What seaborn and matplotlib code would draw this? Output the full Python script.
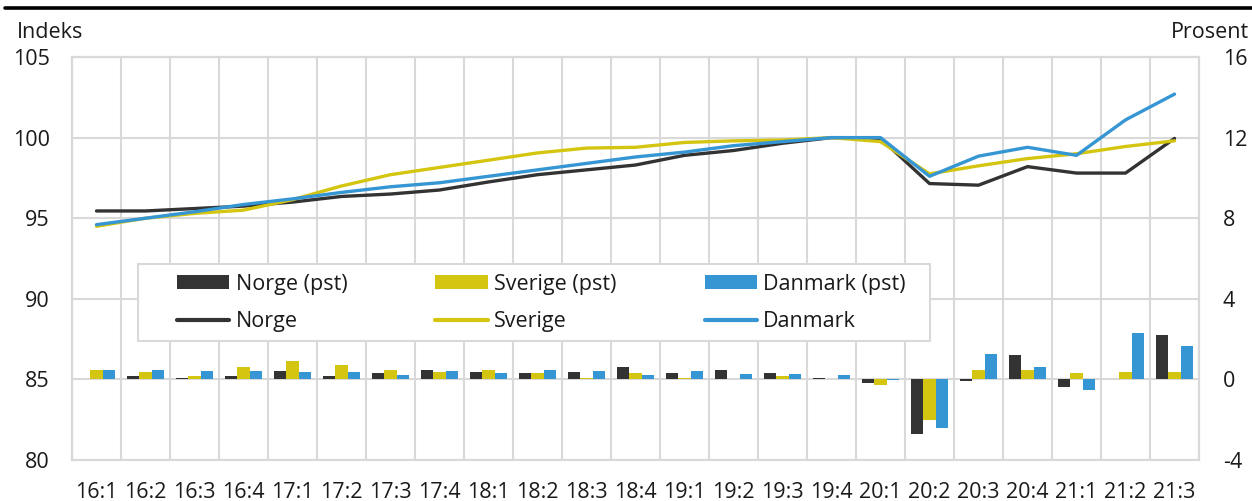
import pandas as pd
import numpy as np
import seaborn as sns
import matplotlib.pyplot as plt
from matplotlib.lines import Line2D

quarters = ["16:1", "16:2", "16:3", "16:4", "17:1", "17:2", "17:3", "17:4",
            "18:1", "18:2", "18:3", "18:4", "19:1", "19:2", "19:3", "19:4",
            "20:1", "20:2", "20:3", "20:4", "21:1", "21:2", "21:3"]

# index (left axis)
norge_idx = [95.45, 95.45, 95.6, 95.75, 96.0, 96.35, 96.5, 96.75, 97.25, 97.7, 98.0, 98.3,
             98.9, 99.2, 99.65, 100.0, 99.95, 97.15, 97.05, 98.2, 97.8, 97.8, 99.95]
sverige_idx = [94.5, 95.0, 95.3, 95.5, 96.15, 97.0, 97.7, 98.15, 98.6, 99.05, 99.35, 99.4,
               99.7, 99.8, 99.85, 100.0, 99.75, 97.75, 98.25, 98.7, 99.0, 99.45, 99.8]
danmark_idx = [94.6, 95.0, 95.4, 95.85, 96.2, 96.6, 96.95, 97.2, 97.6, 98.0, 98.4, 98.8,
               99.1, 99.5, 99.75, 100.0, 100.0, 97.6, 98.85, 99.4, 98.9, 101.1, 102.7]

# quarterly growth in percent (right axis)
norge_pst = [0.0, 0.18, 0.08, 0.18, 0.4, 0.18, 0.3, 0.48, 0.38, 0.3, 0.38, 0.6,
             0.3, 0.48, 0.3, 0.07, -0.2, -2.72, -0.1, 1.19, -0.4, 0.0, 2.18]
sverige_pst = [0.48, 0.38, 0.18, 0.6, 0.91, 0.7, 0.48, 0.38, 0.48, 0.3, 0.08, 0.3,
               0.08, 0.0, 0.18, 0.0, -0.3, -2.0, 0.48, 0.48, 0.3, 0.38, 0.38]
danmark_pst = [0.46, 0.46, 0.43, 0.41, 0.35, 0.35, 0.23, 0.41, 0.31, 0.46, 0.43, 0.21,
               0.43, 0.28, 0.25, 0.23, -0.02, -2.43, 1.24, 0.61, -0.55, 2.28, 1.64]

countries = ["Norge", "Sverige", "Danmark"]
colors = ["#333333", "#d4c511", "#3596d3"]

sns.set_theme(style="white")
plt.rcParams["font.family"] = ["Open Sans", "DejaVu Sans"]
plt.rcParams["text.color"] = "#1a1a1a"
plt.rcParams["xtick.color"] = "#1a1a1a"
plt.rcParams["ytick.color"] = "#1a1a1a"
fs = 15.5

# long-form frames
df_lines = pd.DataFrame({
    "kvartal": quarters * 3,
    "indeks": norge_idx + sverige_idx + danmark_idx,
    "land": np.repeat(countries, len(quarters)),
})
df_bars = pd.DataFrame({
    "kvartal": quarters * 3,
    "pst": norge_pst + sverige_pst + danmark_pst,
    "land": np.repeat([c + " (pst)" for c in countries], len(quarters)),
})

fig = plt.figure(figsize=(12.52, 5.01), dpi=100)
ax = fig.add_axes([0.0575, 0.0818, 0.9002, 0.8044])
ax2 = ax.twinx()

sns.lineplot(data=df_lines, x="kvartal", y="indeks", hue="land",
             palette=colors, linewidth=2.4, ax=ax, legend=False, sort=False)
sns.barplot(data=df_bars, x="kvartal", y="pst", hue="land",
            palette=colors, width=0.75, linewidth=0, saturation=1,
            ax=ax2, legend=False)

n = len(quarters)
ax.set_xlim(-0.5, n - 0.5)
ax.set_ylim(80, 105)
ax.set_yticks([80, 85, 90, 95, 100, 105])
ax2.set_ylim(-4, 16)
ax2.set_yticks([-4, 0, 4, 8, 12, 16])
ax2.set_yticklabels(["-4", "0", "4", "8", "12", "16"])

# grid: horizontal at left ticks, vertical between quarters
grid_c = "#d9d9d9"
ax.set_xticks(np.arange(-0.5, n, 1), minor=True)
ax.grid(axis="y", color=grid_c, linewidth=1.5)
ax.grid(axis="x", which="minor", color=grid_c, linewidth=1.5)
ax.grid(axis="x", which="major", visible=False)
for a in (ax, ax2):
    for s in a.spines.values():
        s.set_color(grid_c)
        s.set_linewidth(1.5)
    a.set_xlabel("")
    a.set_ylabel("")
    a.tick_params(length=0, which="both", labelsize=fs)

ax.tick_params(axis="y", pad=16)
ax2.tick_params(axis="y", pad=17)
ax.tick_params(axis="x", pad=15.5)
for lab in ax2.get_yticklabels():
    lab.set_horizontalalignment("left")

fig.text(0.0135, 0.915, "Indeks", fontsize=fs, ha="left", va="bottom")
fig.text(0.998, 0.915, "Prosent", fontsize=fs, ha="right", va="bottom")

# thick rule on top
fig.add_artist(Line2D([0.004, 1.0], [0.985, 0.985], color="black", linewidth=2.6,
                      transform=fig.transFigure))

# legend frame drawn separately so the inner padding can match
frame = plt.Rectangle((0.0586, 0.2953), 0.7028, 0.191, transform=ax2.transAxes,
                      facecolor="white", edgecolor=grid_c, linewidth=1.5, zorder=5)
ax2.add_patch(frame)

# legend: bars row then lines row
handles = []
labels = []
for c, col in zip(countries, colors):
    handles.append(plt.Rectangle((0, 0), 1, 1, facecolor=col, edgecolor="none"))
    labels.append(c + " (pst)")
    handles.append(Line2D([], [], color=col, linewidth=3, solid_capstyle="round"))
    labels.append(c)
leg = ax2.legend(handles, labels, ncol=3, loc="center left",
                 bbox_to_anchor=(0.0932, 0.390), fontsize=fs,
                 handlelength=2.42, handleheight=0.6, handletextpad=0.3,
                 columnspacing=4.1, labelspacing=0.75, borderpad=0,
                 borderaxespad=0, frameon=False)
leg.set_zorder(6)

fig.savefig("out.png", dpi=100)
